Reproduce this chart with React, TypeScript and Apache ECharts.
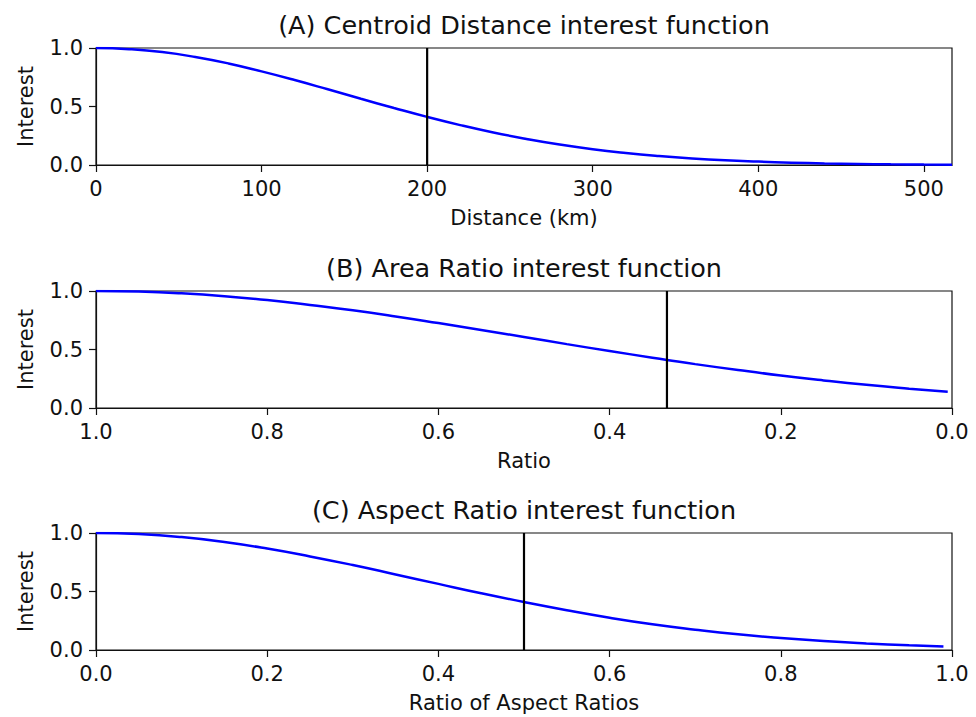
import React, { useEffect, useRef } from "react";
import * as echarts from "echarts";

// Panel A: Centroid distance (km) vs interest
const distanceKm = [0, 20, 40, 60, 80, 100, 120, 140, 160, 180, 200, 220, 240, 260, 280, 300, 320, 340, 360, 380, 400, 420, 440, 460, 480, 500, 517];
const distanceInterest = [1.0, 0.99, 0.965, 0.923, 0.868, 0.8, 0.726, 0.647, 0.566, 0.487, 0.411, 0.341, 0.278, 0.223, 0.175, 0.135, 0.103, 0.077, 0.056, 0.04, 0.029, 0.02, 0.013, 0.009, 0.006, 0.004, 0.003];
const distanceThreshold = 200;
const distanceTicks = [0, 100, 200, 300, 400, 500];

// Panel B: Area ratio vs interest
const areaRatio = [1.0, 0.95, 0.9, 0.85, 0.8, 0.75, 0.7, 0.65, 0.6, 0.55, 0.5, 0.45, 0.4, 0.35, 0.333, 0.3, 0.25, 0.2, 0.15, 0.1, 0.05, 0.005];
const areaInterest = [1.0, 0.995, 0.98, 0.956, 0.923, 0.88, 0.835, 0.783, 0.726, 0.667, 0.607, 0.546, 0.487, 0.43, 0.411, 0.375, 0.325, 0.278, 0.236, 0.198, 0.165, 0.138];
const areaThreshold = 0.333;
const ratioTicks = [0, 0.2, 0.4, 0.6, 0.8, 1.0];

// Panel C: Ratio of aspect ratios vs interest
const aspectRatio = [0, 0.05, 0.1, 0.15, 0.2, 0.25, 0.3, 0.35, 0.4, 0.45, 0.5, 0.55, 0.6, 0.65, 0.7, 0.75, 0.8, 0.85, 0.9, 0.95, 0.99];
const aspectInterest = [1.0, 0.991, 0.965, 0.923, 0.867, 0.8, 0.726, 0.646, 0.565, 0.485, 0.41, 0.34, 0.276, 0.22, 0.174, 0.134, 0.102, 0.076, 0.056, 0.04, 0.03];
const aspectThreshold = 0.5;

const yTicks = [0, 0.5, 1.0];

const titles = [
  "(A) Centroid Distance interest function",
  "(B) Area Ratio interest function",
  "(C) Aspect Ratio interest function",
];
const xNames = ["Distance (km)", "Ratio", "Ratio of Aspect Ratios"];
const yName = "Interest";

const FONT = "DejaVu Sans";

export default function App() {
  const ref = useRef<HTMLDivElement>(null);
  useEffect(() => {
    if (!ref.current) return;
    const chart = echarts.init(ref.current, undefined, { renderer: "svg" });

    const grids = [
      { left: 96, right: 24, top: 48, height: 117 },
      { left: 96, right: 24, top: 291, height: 117 },
      { left: 96, right: 24, top: 533, height: 117 },
    ];
    const titleCenters = [25, 268, 510];

    const xCfg = [
      { min: 0, max: 517, inverse: false, ticks: distanceTicks, fmt: (v: number) => String(Math.round(v)) },
      { min: 0, max: 1, inverse: true, ticks: ratioTicks, fmt: (v: number) => v.toFixed(1) },
      { min: 0, max: 1, inverse: false, ticks: ratioTicks, fmt: (v: number) => v.toFixed(1) },
    ];

    const lineData = [
      distanceKm.map((x, i) => [x, distanceInterest[i]]),
      areaRatio.map((x, i) => [x, areaInterest[i]]),
      aspectRatio.map((x, i) => [x, aspectInterest[i]]),
    ];
    const thresholds = [distanceThreshold, areaThreshold, aspectThreshold];

    const textStyle = { fontFamily: FONT, color: "#111" };

    chart.setOption({
      animation: false,
      backgroundColor: "#fff",
      title: titles.map((t, i) => ({
        text: t,
        left: 524,
        top: titleCenters[i] - 15,
        textAlign: "center",
        padding: 0,
        textStyle: { ...textStyle, fontSize: 25.5, fontWeight: "normal", lineHeight: 30 },
      })),
      grid: grids.map((g) => ({ ...g, show: true, borderColor: "#111", borderWidth: 1.2, backgroundColor: "transparent" })),
      xAxis: xCfg.map((c, i) => ({
        type: "value",
        gridIndex: i,
        min: c.min,
        max: c.max,
        inverse: c.inverse,
        name: xNames[i],
        nameLocation: "middle",
        nameGap: 42,
        nameTextStyle: { ...textStyle, fontSize: 21 },
        splitLine: { show: false },
        axisLine: { show: true, onZero: false, lineStyle: { color: "#111", width: 1.2 } },
        axisTick: { show: true, length: 7, customValues: c.ticks, lineStyle: { color: "#111", width: 1.2 } },
        axisLabel: { ...textStyle, fontSize: 21, margin: 13, customValues: c.ticks, formatter: c.fmt },
      })),
      yAxis: grids.map((_, i) => ({
        type: "value",
        gridIndex: i,
        min: 0,
        max: 1,
        interval: 0.5,
        name: yName,
        nameLocation: "middle",
        nameGap: 60,
        nameTextStyle: { ...textStyle, fontSize: 21 },
        splitLine: { show: false },
        axisLine: { show: true, onZero: false, lineStyle: { color: "#111", width: 1.2 } },
        axisTick: { show: true, length: 7, customValues: yTicks, lineStyle: { color: "#111", width: 1.2 } },
        axisLabel: { ...textStyle, fontSize: 21, margin: 13, customValues: yTicks, formatter: (v: number) => v.toFixed(1) },
      })),
      series: [
        ...lineData.map((d, i) => ({
          type: "line",
          xAxisIndex: i,
          yAxisIndex: i,
          data: d,
          showSymbol: false,
          smooth: true,
          lineStyle: { color: "#0000ff", width: 2.5 },
          z: 3,
        })),
        ...thresholds.map((t, i) => ({
          type: "line",
          xAxisIndex: i,
          yAxisIndex: i,
          data: [[t, 0], [t, 1]],
          showSymbol: false,
          lineStyle: { color: "#000", width: 2.2 },
          z: 4,
        })),
      ],
    });
    return () => chart.dispose();
  }, []);
  return <div ref={ref} style={{ position: "absolute", left: 0, top: 0, width: 976, height: 717 }} />;
}
